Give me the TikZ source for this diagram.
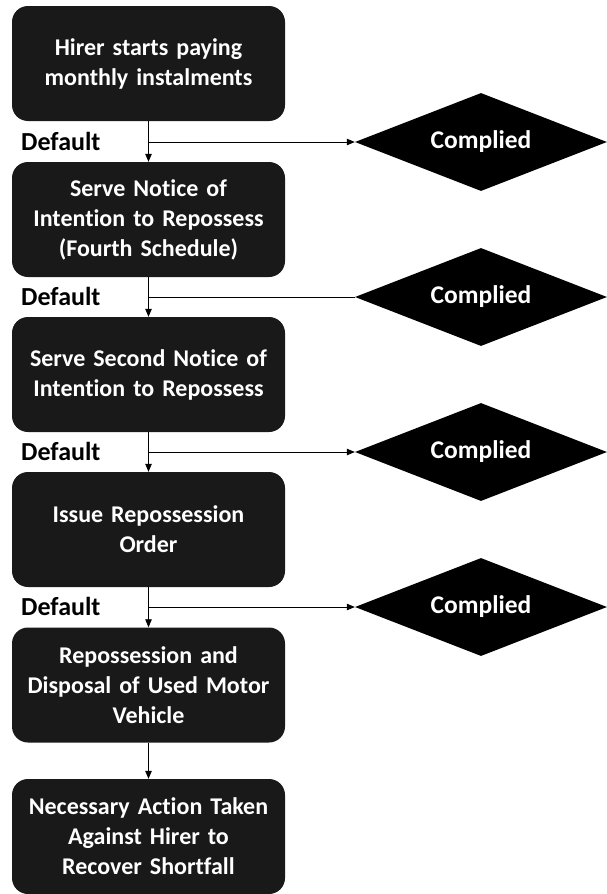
\documentclass[tikz,border=0pt]{standalone}
\usepackage{fontspec}
\setmainfont{Carlito}[Ligatures={NoCommon}]
\usetikzlibrary{shapes.geometric,arrows.meta}

\begin{document}
\begin{tikzpicture}[x=1pt,y=-1pt,
  stepbox/.style={draw=none, fill=black!90, rounded corners=16pt,
    minimum width=273pt, minimum height=115pt, text width=262pt,
    align=center, text=white, inner sep=0pt,
    font=\bfseries\fontsize{24}{30}\selectfont},
  okdiamond/.style={diamond, fill=black, draw=none, aspect=2.57,
    minimum width=252pt, minimum height=98pt, inner sep=0pt,
    text=white, font=\bfseries\fontsize{25.5}{30}\selectfont},
  deflabel/.style={anchor=base west, inner sep=0pt,
    font=\bfseries\fontsize{26}{30}\selectfont},
  flow/.style={line width=0.8pt, -{Triangle[length=8pt,width=6.5pt]}},
  plain/.style={line width=0.8pt}]

\useasboundingbox (0,0) rectangle (607,894);

% main sequence of steps
\node[stepbox] (b1) at (148.5,63.5)  {Hirer starts paying\\monthly instalments};
\node[stepbox] (b2) at (148.5,219.5) {Serve Notice of\\Intention to Repossess\\(Fourth Schedule)};
\node[stepbox] (b3) at (148.5,374.5) {Serve Second Notice of\\Intention to Repossess};
\node[stepbox] (b4) at (148.5,529.5) {Issue Repossession\\Order};
\node[stepbox] (b5) at (148.5,685)   {Repossession and\\Disposal of Used Motor\\Vehicle};
\node[stepbox] (b6) at (148.5,836.5) {Necessary Action Taken\\Against Hirer to\\Recover Shortfall};

% compliance outcomes
\node[okdiamond] (d1) at (481,142) {Complied};
\node[okdiamond] (d2) at (481,297) {Complied};
\node[okdiamond] (d3) at (481,452) {Complied};
\node[okdiamond] (d4) at (481,607) {Complied};

% branch points on the vertical connectors
\coordinate (j1) at (148.5,142);
\coordinate (j2) at (148.5,297);
\coordinate (j3) at (148.5,452);
\coordinate (j4) at (148.5,607);

% default labels
\node[deflabel] (l1) at (21,150) {Default};
\node[deflabel] (l2) at (21,305) {Default};
\node[deflabel] (l3) at (21,460) {Default};
\node[deflabel] (l4) at (21,615) {Default};

% vertical connectors
\draw[flow] (b1.south) -- (b2.north);
\draw[flow] (b2.south) -- (b3.north);
\draw[flow] (b3.south) -- (b4.north);
\draw[flow] (b4.south) -- (b5.north);
\draw[flow] (b5.south) -- (b6.north);

% branches to the outcomes
\draw[flow]  (j1) -- (d1.west);
\draw[plain] (j2) -- (d2.west);
\draw[flow]  (j3) -- (d3.west);
\draw[flow]  (j4) -- (d4.west);
\end{tikzpicture}
\end{document}
